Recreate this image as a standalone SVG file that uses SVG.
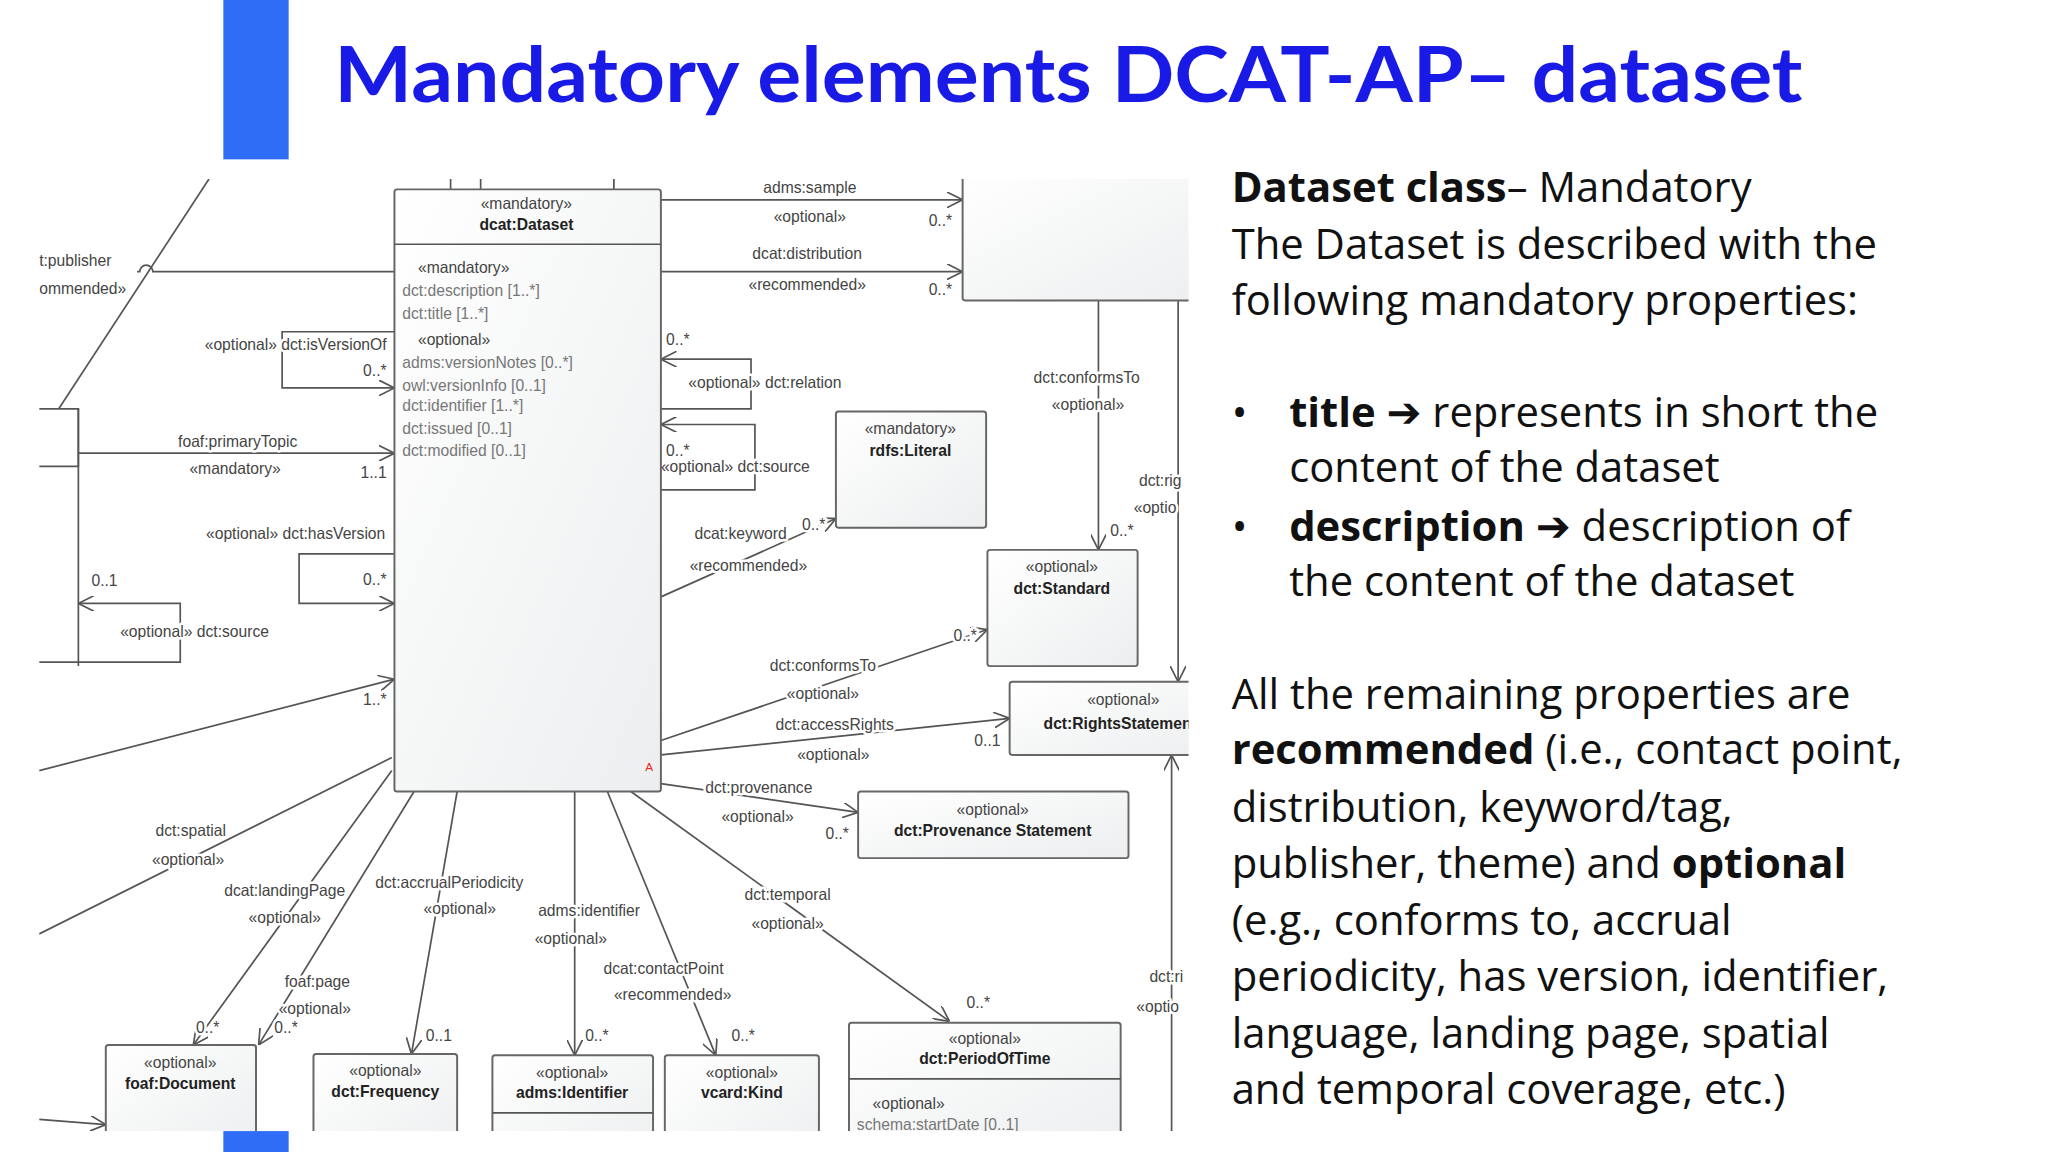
<svg xmlns="http://www.w3.org/2000/svg" width="2048" height="1152" viewBox="0 0 2048 1152">
<defs>
<style>
.t{font-family:"Liberation Sans",Arial,sans-serif;font-size:12px;fill:#444}
#labels .t{stroke:#fff;stroke-width:4px;paint-order:stroke;stroke-linejoin:round}
.tb{font-family:"Liberation Sans",Arial,sans-serif;font-size:12px;fill:#222;font-weight:bold}
.ta{font-family:"Liberation Sans",Arial,sans-serif;font-size:12px;fill:#777}
.m{text-anchor:middle}
.e{text-anchor:end}
.ln{fill:none;stroke:#555;stroke-width:1.3}
.bx{fill:url(#g);stroke:#666;stroke-width:1.5}
.r{font-family:"Open Sans","Liberation Sans",Arial,sans-serif;font-size:32px;fill:#111}
.ar{font-family:"DejaVu Sans",sans-serif;font-weight:bold}
</style>
<linearGradient id="g" x1="0" y1="0" x2="1" y2="1"><stop offset="0" stop-color="#fff"/><stop offset="1" stop-color="#eceeef"/></linearGradient>
<marker id="a" viewBox="0 0 12 12" refX="12" refY="6" markerWidth="12" markerHeight="12" markerUnits="userSpaceOnUse" orient="auto"><path d="M0,0 L12,6 L0,12" fill="none" stroke="#555" stroke-width="1.3"/></marker>
<clipPath id="c"><rect x="30" y="137" width="880" height="729"/></clipPath>
</defs>
<rect width="2048" height="1152" fill="#fff"/>
<g transform="scale(1.30612)">
<rect x="171" y="0" width="50" height="122" fill="#2f6df6"/>
<rect x="171" y="866" width="50" height="16" fill="#2f6df6"/>
<text x="256" y="78" textLength="1124" lengthAdjust="spacingAndGlyphs" style="font-family:Lato,'Liberation Sans',sans-serif;font-weight:bold;font-size:58px;fill:#1a1ae6">Mandatory elements DCAT-AP– dataset</text>

<g id="diagram" clip-path="url(#c)">
<g id="connectors">
<path class="ln" d="M160,137 L45,313"/>
<path class="ln" d="M345,137V145M368,137V145M470,137V145"/>
<path class="ln" d="M105,208 H107 A5,5 0 0 1 117,208 H302"/>
<path class="ln" d="M302,254 H216 V297 H302" marker-end="url(#a)"/>
<path class="ln" d="M60,347 H302" marker-end="url(#a)"/>
<path class="ln" d="M60,313 V510"/>
<path class="ln" d="M302,424 H229 V462 H302" marker-end="url(#a)"/>
<path class="ln" d="M30,507 H138 V462 H60" marker-end="url(#a)"/>
<path class="ln" d="M30,590 L302,520" marker-end="url(#a)"/>
<path class="ln" d="M30,715 L300,580"/>
<path class="ln" d="M300,590 L148,800" marker-end="url(#a)"/>
<path class="ln" d="M317,606 L198,800" marker-end="url(#a)"/>
<path class="ln" d="M350,606 L315,807" marker-end="url(#a)"/>
<path class="ln" d="M440,606 L440,808" marker-end="url(#a)"/>
<path class="ln" d="M465,606 L548,808" marker-end="url(#a)"/>
<path class="ln" d="M483,606 L727,782" marker-end="url(#a)"/>
<path class="ln" d="M30,857 L81,861" marker-end="url(#a)"/>
<path class="ln" d="M506,153 H737" marker-end="url(#a)"/>
<path class="ln" d="M506,208 H737" marker-end="url(#a)"/>
<path class="ln" d="M506,313 H575 V275 H506" marker-end="url(#a)"/>
<path class="ln" d="M506,375 H578 V325 H506" marker-end="url(#a)"/>
<path class="ln" d="M506,457 L640,397" marker-end="url(#a)"/>
<path class="ln" d="M841,230 V421" marker-end="url(#a)"/>
<path class="ln" d="M902,230 V522" marker-end="url(#a)"/>
<path class="ln" d="M506,567 L756,482" marker-end="url(#a)"/>
<path class="ln" d="M506,578 L773,550" marker-end="url(#a)"/>
<path class="ln" d="M506,600 L657,622" marker-end="url(#a)"/>
<path class="ln" d="M897,866 V578" marker-end="url(#a)"/>
</g>
<g id="labels">
<text class="t" x="30" y="204">t:publisher</text>
<text class="t" x="30" y="225">ommended»</text>
<text class="t e" x="296" y="268">«optional» dct:isVersionOf</text>
<text class="t e" x="296" y="288">0..*</text>
<text class="t m" x="182" y="342">foaf:primaryTopic</text>
<text class="t m" x="180" y="363">«mandatory»</text>
<text class="t e" x="296" y="366">1..1</text>
<text class="t e" x="295" y="413">«optional» dct:hasVersion</text>
<text class="t e" x="296" y="448">0..*</text>
<text class="t" x="70" y="449">0..1</text>
<text class="t" x="92" y="488">«optional» dct:source</text>
<text class="t e" x="296" y="540">1..*</text>
<text class="t m" x="146" y="640">dct:spatial</text>
<text class="t m" x="144" y="662">«optional»</text>
<text class="t m" x="218" y="686">dcat:landingPage</text>
<text class="t m" x="218" y="707">«optional»</text>
<text class="t m" x="344" y="680">dct:accrualPeriodicity</text>
<text class="t m" x="352" y="700">«optional»</text>
<text class="t m" x="451" y="701">adms:identifier</text>
<text class="t m" x="437" y="723">«optional»</text>
<text class="t m" x="243" y="756">foaf:page</text>
<text class="t m" x="241" y="776">«optional»</text>
<text class="t m" x="508" y="746">dcat:contactPoint</text>
<text class="t m" x="515" y="766">«recommended»</text>
<text class="t m" x="603" y="689">dct:temporal</text>
<text class="t m" x="603" y="711">«optional»</text>
<text class="t" x="150" y="791">0..*</text>
<text class="t" x="210" y="791">0..*</text>
<text class="t" x="326" y="797">0..1</text>
<text class="t" x="448" y="797">0..*</text>
<text class="t" x="560" y="797">0..*</text>
<text class="t" x="740" y="772">0..*</text>
<text class="t m" x="620" y="148">adms:sample</text>
<text class="t m" x="620" y="170">«optional»</text>
<text class="t" x="711" y="173">0..*</text>
<text class="t m" x="618" y="198">dcat:distribution</text>
<text class="t m" x="618" y="222">«recommended»</text>
<text class="t" x="711" y="226">0..*</text>
<text class="t" x="510" y="264">0..*</text>
<text class="t" x="527" y="297">«optional» dct:relation</text>
<text class="t" x="510" y="349">0..*</text>
<text class="t" x="506" y="361">«optional» dct:source</text>
<text class="t m" x="567" y="413">dcat:keyword</text>
<text class="t m" x="573" y="437">«recommended»</text>
<text class="t" x="614" y="406">0..*</text>
<text class="t m" x="832" y="293">dct:conformsTo</text>
<text class="t m" x="833" y="314">«optional»</text>
<text class="t" x="850" y="410">0..*</text>
<text class="t" x="872" y="372">dct:rig</text>
<text class="t" x="868" y="393">«optio</text>
<text class="t m" x="630" y="514">dct:conformsTo</text>
<text class="t m" x="630" y="535">«optional»</text>
<text class="t" x="730" y="491">0..*</text>
<text class="t m" x="639" y="559">dct:accessRights</text>
<text class="t m" x="638" y="582">«optional»</text>
<text class="t" x="746" y="571">0..1</text>
<text class="t m" x="581" y="607">dct:provenance</text>
<text class="t m" x="580" y="629">«optional»</text>
<text class="t" x="632" y="642">0..*</text>
<text class="t" x="880" y="752">dct:ri</text>
<text class="t" x="870" y="775">«optio</text>
</g>
<g id="dataset">
<rect class="bx" x="302" y="145" width="204" height="461" rx="2"/>
<path class="ln" d="M302,187 H506"/>
<text class="t m" x="403" y="160">«mandatory»</text>
<text class="tb m" x="403" y="176">dcat:Dataset</text>
<text class="t" x="320" y="209">«mandatory»</text>
<text class="ta" x="308" y="227">dct:description [1..*]</text>
<text class="ta" x="308" y="244">dct:title [1..*]</text>
<text class="t" x="320" y="264">«optional»</text>
<text class="ta" x="308" y="282">adms:versionNotes [0..*]</text>
<text class="ta" x="308" y="299">owl:versionInfo [0..1]</text>
<text class="ta" x="308" y="315">dct:identifier [1..*]</text>
<text class="ta" x="308" y="332">dct:issued [0..1]</text>
<text class="ta" x="308" y="349">dct:modified [0..1]</text>
<text x="494" y="590" style="font-family:'Liberation Sans',sans-serif;font-size:9px;fill:#e22">A</text>
</g>
<g id="leftbox"><path class="ln" d="M30,313 H60 V357 H30"/></g>
<g id="distribution"><rect class="bx" x="737" y="130" width="200" height="100" rx="2"/></g>
<g id="literal"><rect class="bx" x="640" y="315" width="115" height="89" rx="2"/>
<text class="t m" x="697" y="332">«mandatory»</text><text class="tb m" x="697" y="349">rdfs:Literal</text></g>
<g id="standard"><rect class="bx" x="756" y="421" width="115" height="89" rx="2"/>
<text class="t m" x="813" y="438">«optional»</text><text class="tb m" x="813" y="455">dct:Standard</text></g>
<g id="rights"><rect class="bx" x="773" y="522" width="160" height="56" rx="2"/>
<text class="t m" x="860" y="540">«optional»</text><text class="tb" x="799" y="558">dct:RightsStatement</text></g>
<g id="provenance"><rect class="bx" x="657" y="606" width="207" height="51" rx="2"/>
<text class="t m" x="760" y="624">«optional»</text><text class="tb m" x="760" y="640">dct:Provenance Statement</text></g>
<g id="document"><rect class="bx" x="81" y="800" width="115" height="80" rx="2"/>
<text class="t m" x="138" y="818">«optional»</text><text class="tb m" x="138" y="834">foaf:Document</text></g>
<g id="frequency"><rect class="bx" x="240" y="807" width="110" height="80" rx="2"/>
<text class="t m" x="295" y="824">«optional»</text><text class="tb m" x="295" y="840">dct:Frequency</text></g>
<g id="identifier"><rect class="bx" x="377" y="808" width="123" height="80" rx="2"/>
<path class="ln" d="M377,852 H500"/>
<text class="t m" x="438" y="825">«optional»</text><text class="tb m" x="438" y="841">adms:Identifier</text></g>
<g id="kind"><rect class="bx" x="509" y="808" width="118" height="80" rx="2"/>
<text class="t m" x="568" y="825">«optional»</text><text class="tb m" x="568" y="841">vcard:Kind</text></g>
<g id="period"><rect class="bx" x="650" y="783" width="208" height="100" rx="2"/>
<path class="ln" d="M650,826 H858"/>
<text class="t m" x="754" y="799">«optional»</text><text class="tb m" x="754" y="815">dct:PeriodOfTime</text>
<text class="t" x="668" y="849">«optional»</text><text class="ta" x="656" y="865">schema:startDate [0..1]</text></g>
</g>

<g id="text">
<text class="r" x="943" y="155"><tspan font-weight="bold">Dataset class</tspan>– Mandatory</text>
<text class="r" x="943" y="198">The Dataset is described with the</text>
<text class="r" x="943" y="241">following mandatory properties:</text>
<text class="r" x="943" y="327">•</text>
<text class="r" x="987" y="327"><tspan font-weight="bold">title</tspan> <tspan class="ar">➔</tspan> represents in short the</text>
<text class="r" x="987" y="369">content of the dataset</text>
<text class="r" x="943" y="414">•</text>
<text class="r" x="987" y="414"><tspan font-weight="bold">description</tspan> <tspan class="ar">➔</tspan> description of</text>
<text class="r" x="987" y="456">the content of the dataset</text>
<text class="r" x="943" y="543">All the remaining properties are</text>
<text class="r" x="943" y="585"><tspan font-weight="bold">recommended</tspan> (i.e., contact point,</text>
<text class="r" x="943" y="629">distribution, keyword/tag,</text>
<text class="r" x="943" y="672">publisher, theme) and <tspan font-weight="bold">optional</tspan></text>
<text class="r" x="943" y="716">(e.g., conforms to, accrual</text>
<text class="r" x="943" y="759">periodicity, has version, identifier,</text>
<text class="r" x="943" y="802">language, landing page, spatial</text>
<text class="r" x="943" y="845">and temporal coverage, etc.)</text>
</g>
</g>
</svg>
